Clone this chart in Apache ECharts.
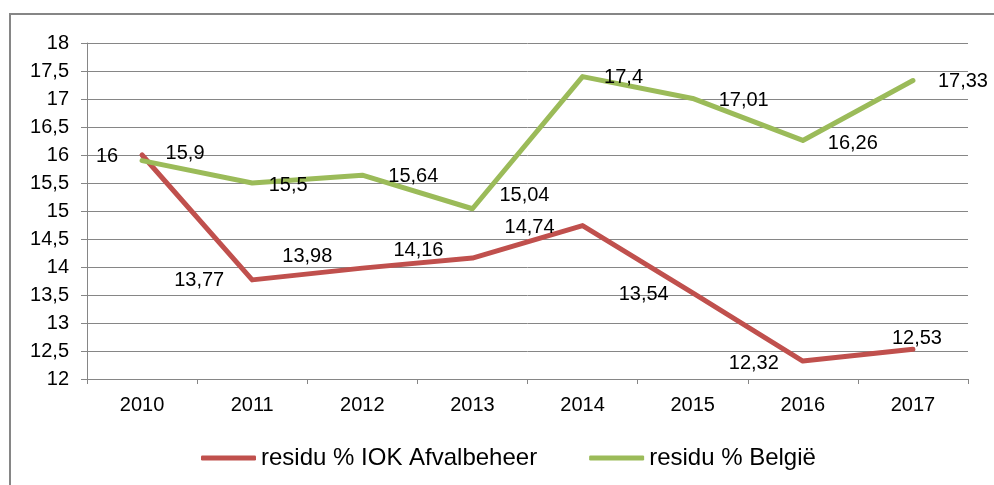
<!DOCTYPE html>
<html>
<head>
<meta charset="utf-8">
<script src="https://cdn.jsdelivr.net/npm/echarts@6/dist/echarts.min.js"></script>
<style>html,body{margin:0;padding:0;background:#fff}#c{width:994px;height:485px}</style>
</head>
<body>
<div id="c"></div>
<script>
const categories = ['2010','2011','2012','2013','2014','2015','2016','2017'];
const iokValues = [16, 13.77, 13.98, 14.16, 14.74, 13.54, 12.32, 12.53];
const belgieValues = [15.9, 15.5, 15.64, 15.04, 17.4, 17.01, 16.26, 17.33];
const iokName = 'residu % IOK Afvalbeheer';
const belgieName = 'residu % België';

const iokLabelOffsets = [[-35,1],[-53,1],[-55,-12],[-54,-8],[-53,2],[-49,2],[-49,2],[4,-11]];
const belgieLabelOffsets = [[43,-7],[36,2],[51,1],[52,-13],[41,1],[51,2],[50,3],[50,1]];

const FONT = 'Liberation Sans, Arial, sans-serif';
const fmt = v => String(v).replace('.', ',');

function build(values, offsets) {
  return values.map((v, i) => ({
    value: v,
    label: { offset: offsets[i] }
  }));
}

const chart = echarts.init(document.getElementById('c'), null, {renderer: 'canvas'});
chart.setOption({
  animation: false,
  backgroundColor: '#fff',
  graphic: [{
    type: 'rect',
    shape: {x: 10, y: 14, width: 1000, height: 500},
    style: {fill: 'none', stroke: '#868686', lineWidth: 2},
    silent: true, z: -1
  }],
  grid: {left: 87, right: 26, top: 43, bottom: 106, containLabel: false},
  legend: {
    left: 196, top: 441,
    itemWidth: 55, itemHeight: 5, itemGap: 52,
    icon: 'roundRect',
    textStyle: {fontFamily: FONT, fontSize: 24, color: '#000'},
    data: [iokName, belgieName]
  },
  xAxis: {
    type: 'category',
    data: categories,
    boundaryGap: true,
    axisLine: {lineStyle: {color: '#868686', width: 1}},
    axisTick: {show: true, length: 5, lineStyle: {color: '#868686'}},
    axisLabel: {fontFamily: FONT, fontSize: 20, color: '#000', margin: 16},
    splitLine: {show: false}
  },
  yAxis: {
    type: 'value',
    min: 12, max: 18, interval: 0.5,
    axisLine: {show: true, lineStyle: {color: '#868686', width: 1}},
    axisTick: {show: true, length: 6, lineStyle: {color: '#868686'}},
    axisLabel: {fontFamily: FONT, fontSize: 20, color: '#000', margin: 18, formatter: fmt},
    splitLine: {show: true, lineStyle: {color: '#868686', width: 1}}
  },
  series: [
    {
      name: iokName, type: 'line',
      data: build(iokValues, iokLabelOffsets),
      color: '#C0504D',
      symbol: 'circle', symbolSize: 1,
      lineStyle: {width: 5, color: '#C0504D', cap: 'round', join: 'round'},
      label: {show: true, position: 'inside', fontFamily: FONT, fontSize: 20, color: '#000',
              formatter: p => fmt(p.value)},
      z: 2
    },
    {
      name: belgieName, type: 'line',
      data: build(belgieValues, belgieLabelOffsets),
      color: '#9BBB59',
      symbol: 'circle', symbolSize: 1,
      lineStyle: {width: 5, color: '#9BBB59', cap: 'round', join: 'round'},
      label: {show: true, position: 'inside', fontFamily: FONT, fontSize: 20, color: '#000',
              formatter: p => fmt(p.value)},
      z: 3
    }
  ]
});
</script>
</body>
</html>
